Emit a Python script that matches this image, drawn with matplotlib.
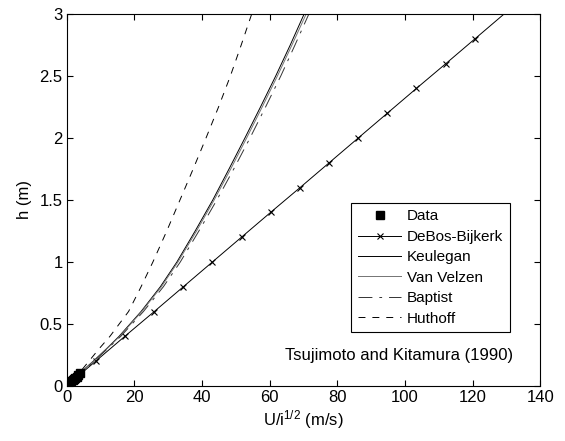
import matplotlib
matplotlib.use("Agg")
import matplotlib.pyplot as plt

# 字体与样式 (MATLAB 风格)
plt.rcParams['font.family'] = ['Liberation Sans', 'DejaVu Sans']
plt.rcParams['mathtext.default'] = 'regular'
plt.rcParams['lines.scale_dashes'] = False

# measured data
data_x = [1.4, 1.8, 2.2, 2.6, 3.0, 3.4, 3.8]
data_h = [0.036, 0.045, 0.055, 0.065, 0.075, 0.087, 0.10]

# DeBos-Bijkerk
debos_h = [0, 0.2, 0.4, 0.6, 0.8, 1.0, 1.2, 1.4, 1.6, 1.8, 2.0, 2.2, 2.4, 2.6, 2.8, 3.0]
debos_x = [0, 8.6, 17.2, 25.9, 34.5, 43.1, 51.7, 60.3, 69.0, 77.6, 86.2, 94.8, 103.4, 112.1, 120.7, 129.3]

# other models, same h grid
h_grid = [0.05, 0.1, 0.2, 0.3, 0.4, 0.6, 0.8, 1.0, 1.25, 1.5, 1.75, 2.0, 2.25, 2.5, 2.75, 3.0]
keulegan_x = [2.0, 3.8, 7.9, 11.8, 15.5, 22.0, 27.7, 32.6, 38.0, 43.2, 48.0, 52.7, 57.3, 61.8, 66.1, 70.2]
velzen_x = [2.0, 3.8, 8.0, 11.9, 15.7, 22.2, 28.0, 32.9, 38.4, 43.6, 48.5, 53.2, 57.8, 62.3, 66.6, 70.8]
baptist_x = [2.0, 3.9, 8.1, 12.1, 16.0, 22.7, 28.6, 33.6, 39.1, 44.4, 49.4, 54.2, 58.8, 63.3, 67.5, 71.6]
huthoff_x = [1.9, 3.6, 6.6, 9.6, 12.8, 18.3, 22.0, 25.5, 29.6, 33.5, 37.4, 41.2, 44.9, 48.4, 51.6, 54.7]

fig = plt.figure(figsize=(5.65, 4.41), dpi=100)
ax = fig.add_axes([0.118, 0.125, 0.838, 0.843])

ax.plot(data_x, data_h, 's', color='k', markersize=6, label='Data', zorder=5)
ax.plot(debos_x, debos_h, '-x', color='k', lw=0.7, markersize=4, mew=0.8,
        markevery=slice(0, -1), label='DeBos-Bijkerk')
ax.plot(keulegan_x, h_grid, '-', color='k', lw=0.7, label='Keulegan')
ax.plot(velzen_x, h_grid, '-', color='0.45', lw=0.7, label='Van Velzen')
ax.plot(baptist_x, h_grid, color='0.2', lw=0.7, dashes=(10, 5, 2, 5), label='Baptist')
ax.plot(huthoff_x, h_grid, color='k', lw=0.7, dashes=(5, 5), label='Huthoff')

ax.set_xlim(0, 140)
ax.set_ylim(0, 3)
ax.set_xticks(range(0, 141, 20))
ax.set_yticks([0, 0.5, 1, 1.5, 2, 2.5, 3])
ax.set_yticklabels(['0', '0.5', '1', '1.5', '2', '2.5', '3'])
ax.tick_params(direction='in', top=True, right=True, length=4, width=0.8,
               labelsize=12, pad=3)
for s in ax.spines.values():
    s.set_linewidth(0.8)

ax.set_xlabel('U/i$^{1/2}$ (m/s)', fontsize=12, labelpad=2)
ax.set_ylabel('h (m)', fontsize=12, labelpad=5)

ax.text(0.942, 0.083, 'Tsujimoto and Kitamura (1990)', transform=ax.transAxes,
        ha='right', va='center', fontsize=12)

leg = ax.legend(loc='upper right', bbox_to_anchor=(0.937, 0.493), borderaxespad=0,
                fontsize=11, handlelength=2.8, handletextpad=0.4, labelspacing=0.42,
                borderpad=0.45, fancybox=False, edgecolor='k', framealpha=1)
leg.get_frame().set_linewidth(0.8)

plt.savefig('out.png', dpi=100)
plt.close()
